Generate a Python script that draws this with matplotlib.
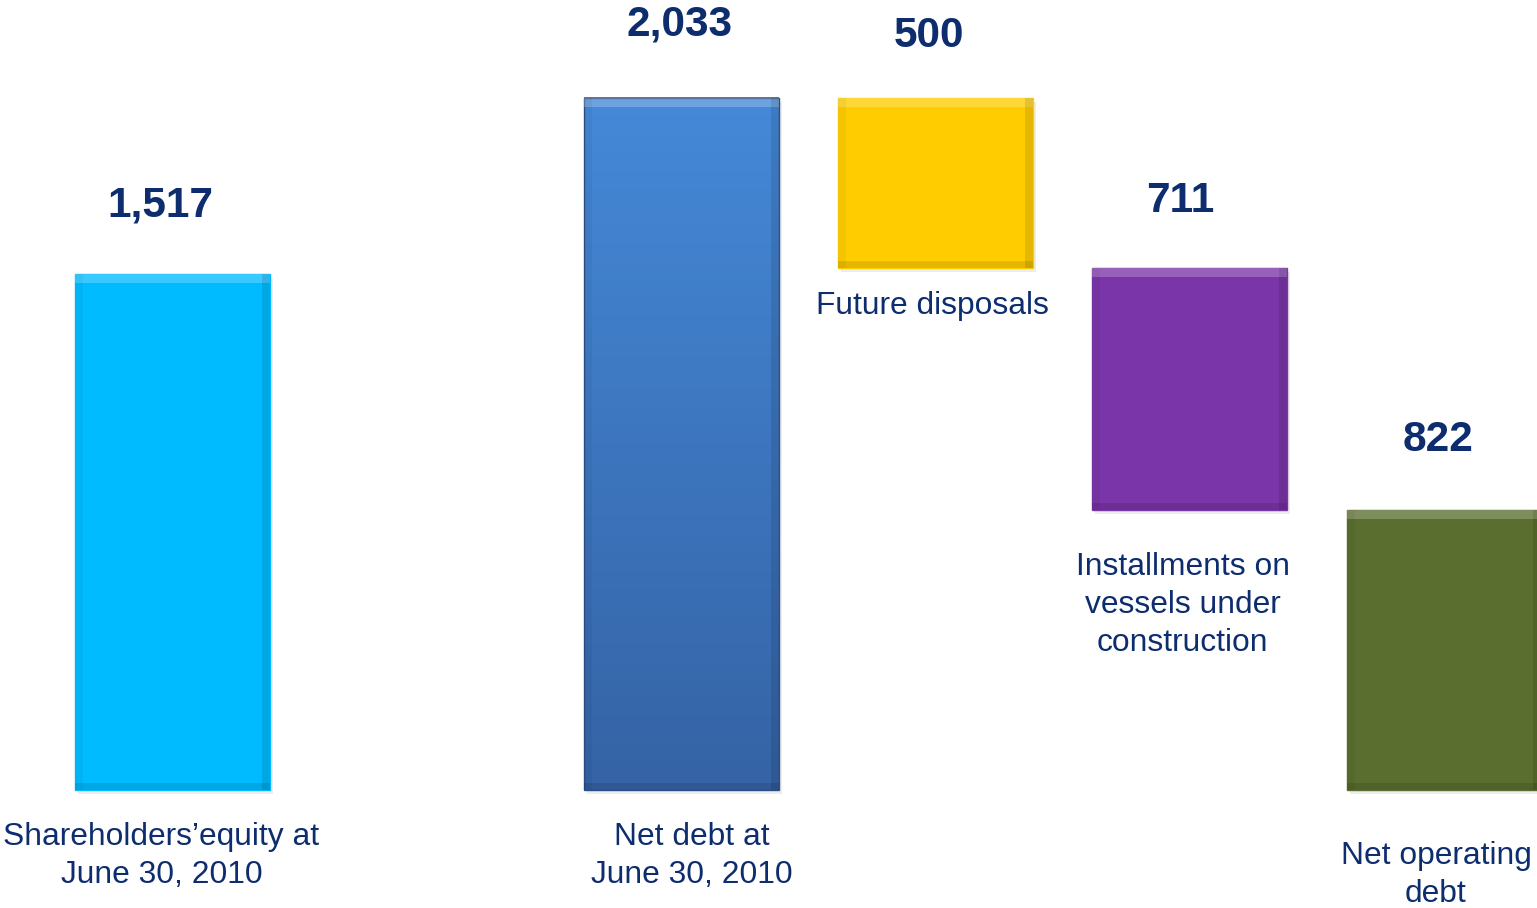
import numpy as np
import matplotlib.pyplot as plt
from matplotlib.colors import LinearSegmentedColormap

plt.rcParams['font.family'] = ['Liberation Sans', 'DejaVu Sans']

# data (EUR m)
categories = ["Shareholders\u2019equity at\nJune 30, 2010", "Net debt at\nJune 30, 2010",
              "Future disposals", "Installments on\nvessels under\nconstruction", "Net operating\ndebt"]
values = [1517, 2033, 500, 711, 822]
value_labels = ["1,517", "2,033", "500", "711", "822"]
positions = [0, 2, 3, 4, 5]
colors = ["#00BBFF", "#4589D8", "#FFCC00", "#7A35A8", "#5A6E2F"]

navy = "#0D2D6E"

# waterfall bottoms: net debt minus disposals minus installments
bottoms = [0, 0, values[1] - values[2], values[1] - values[2] - values[3], 0]

fig = plt.figure(figsize=(15.37, 9.08), dpi=100)
ax = fig.add_axes([0, 0, 1, 1])

ppu = 0.3404      # pixels per unit
base_px = 790     # baseline pixel row
step_px = 254.3
x0_px = 172.5
ax.set_ylim(-(908 - base_px) / ppu, base_px / ppu)
ax.set_xlim(-x0_px / step_px, (1537 - x0_px) / step_px)
ax.axis('off')

width = 195 / step_px
bev = 9 / ppu

for i, (p, v, b, c) in enumerate(zip(positions, values, bottoms, colors)):
    if i == 1:
        # gradient bar
        cmap = LinearSegmentedColormap.from_list("g", ["#3563A5", "#4589D8"])
        grad = np.linspace(0, 1, 256).reshape(-1, 1)
        ax.imshow(grad, cmap=cmap, aspect='auto', origin='lower',
                  extent=(p - width / 2, p + width / 2, b, b + v), zorder=2)
        ax.bar(p, v, width, bottom=b, color='none', edgecolor="#2C4F85", linewidth=1.0, zorder=3)
    else:
        ax.bar(p, v, width, bottom=b, color=c, edgecolor=c, linewidth=1.0, zorder=2)
    # soft shadow
    ax.bar(p + 3 / step_px, v, width, bottom=b - 4 / ppu, color='#000000', alpha=0.07,
           linewidth=0, zorder=1)
    # bevel highlight at top, darker sides/bottom
    ax.bar(p, bev, width, bottom=b + v - bev, color='white', alpha=0.22, linewidth=0, zorder=3)
    ax.bar(p, bev * 0.8, width, bottom=b, color='black', alpha=0.10, linewidth=0, zorder=3)
    ax.bar(p + width / 2 - 4 / step_px, v, 8 / step_px, bottom=b, color='black', alpha=0.10,
           linewidth=0, zorder=3)
    ax.bar(p - width / 2 + 4 / step_px, v, 8 / step_px, bottom=b, color='black', alpha=0.04,
           linewidth=0, zorder=3)

# value labels
label_off = [68, 73, 62, 67, 70]
label_dx = [-12, -2, -6, -9, -6]
for p, v, b, t, off, dx in zip(positions, values, bottoms, value_labels, label_off, label_dx):
    ax.text(p + dx / step_px, b + v + off / ppu, t, ha='center', va='center',
            fontsize=30.5, fontweight='bold', color=navy, zorder=4)

# category labels (pixel rows of text centres)
cat_y_px = [856, 856, 306, 605, 875]
cat_dx = [-11, 11, -3, -7, -8]
for p, t, ypx, dx in zip(positions, categories, cat_y_px, cat_dx):
    ax.text(p + dx / step_px, (base_px - ypx) / ppu, t, ha='center', va='center',
            fontsize=22.9, color=navy, linespacing=1.33, zorder=4)

plt.savefig("out.png", dpi=100, facecolor='white')
